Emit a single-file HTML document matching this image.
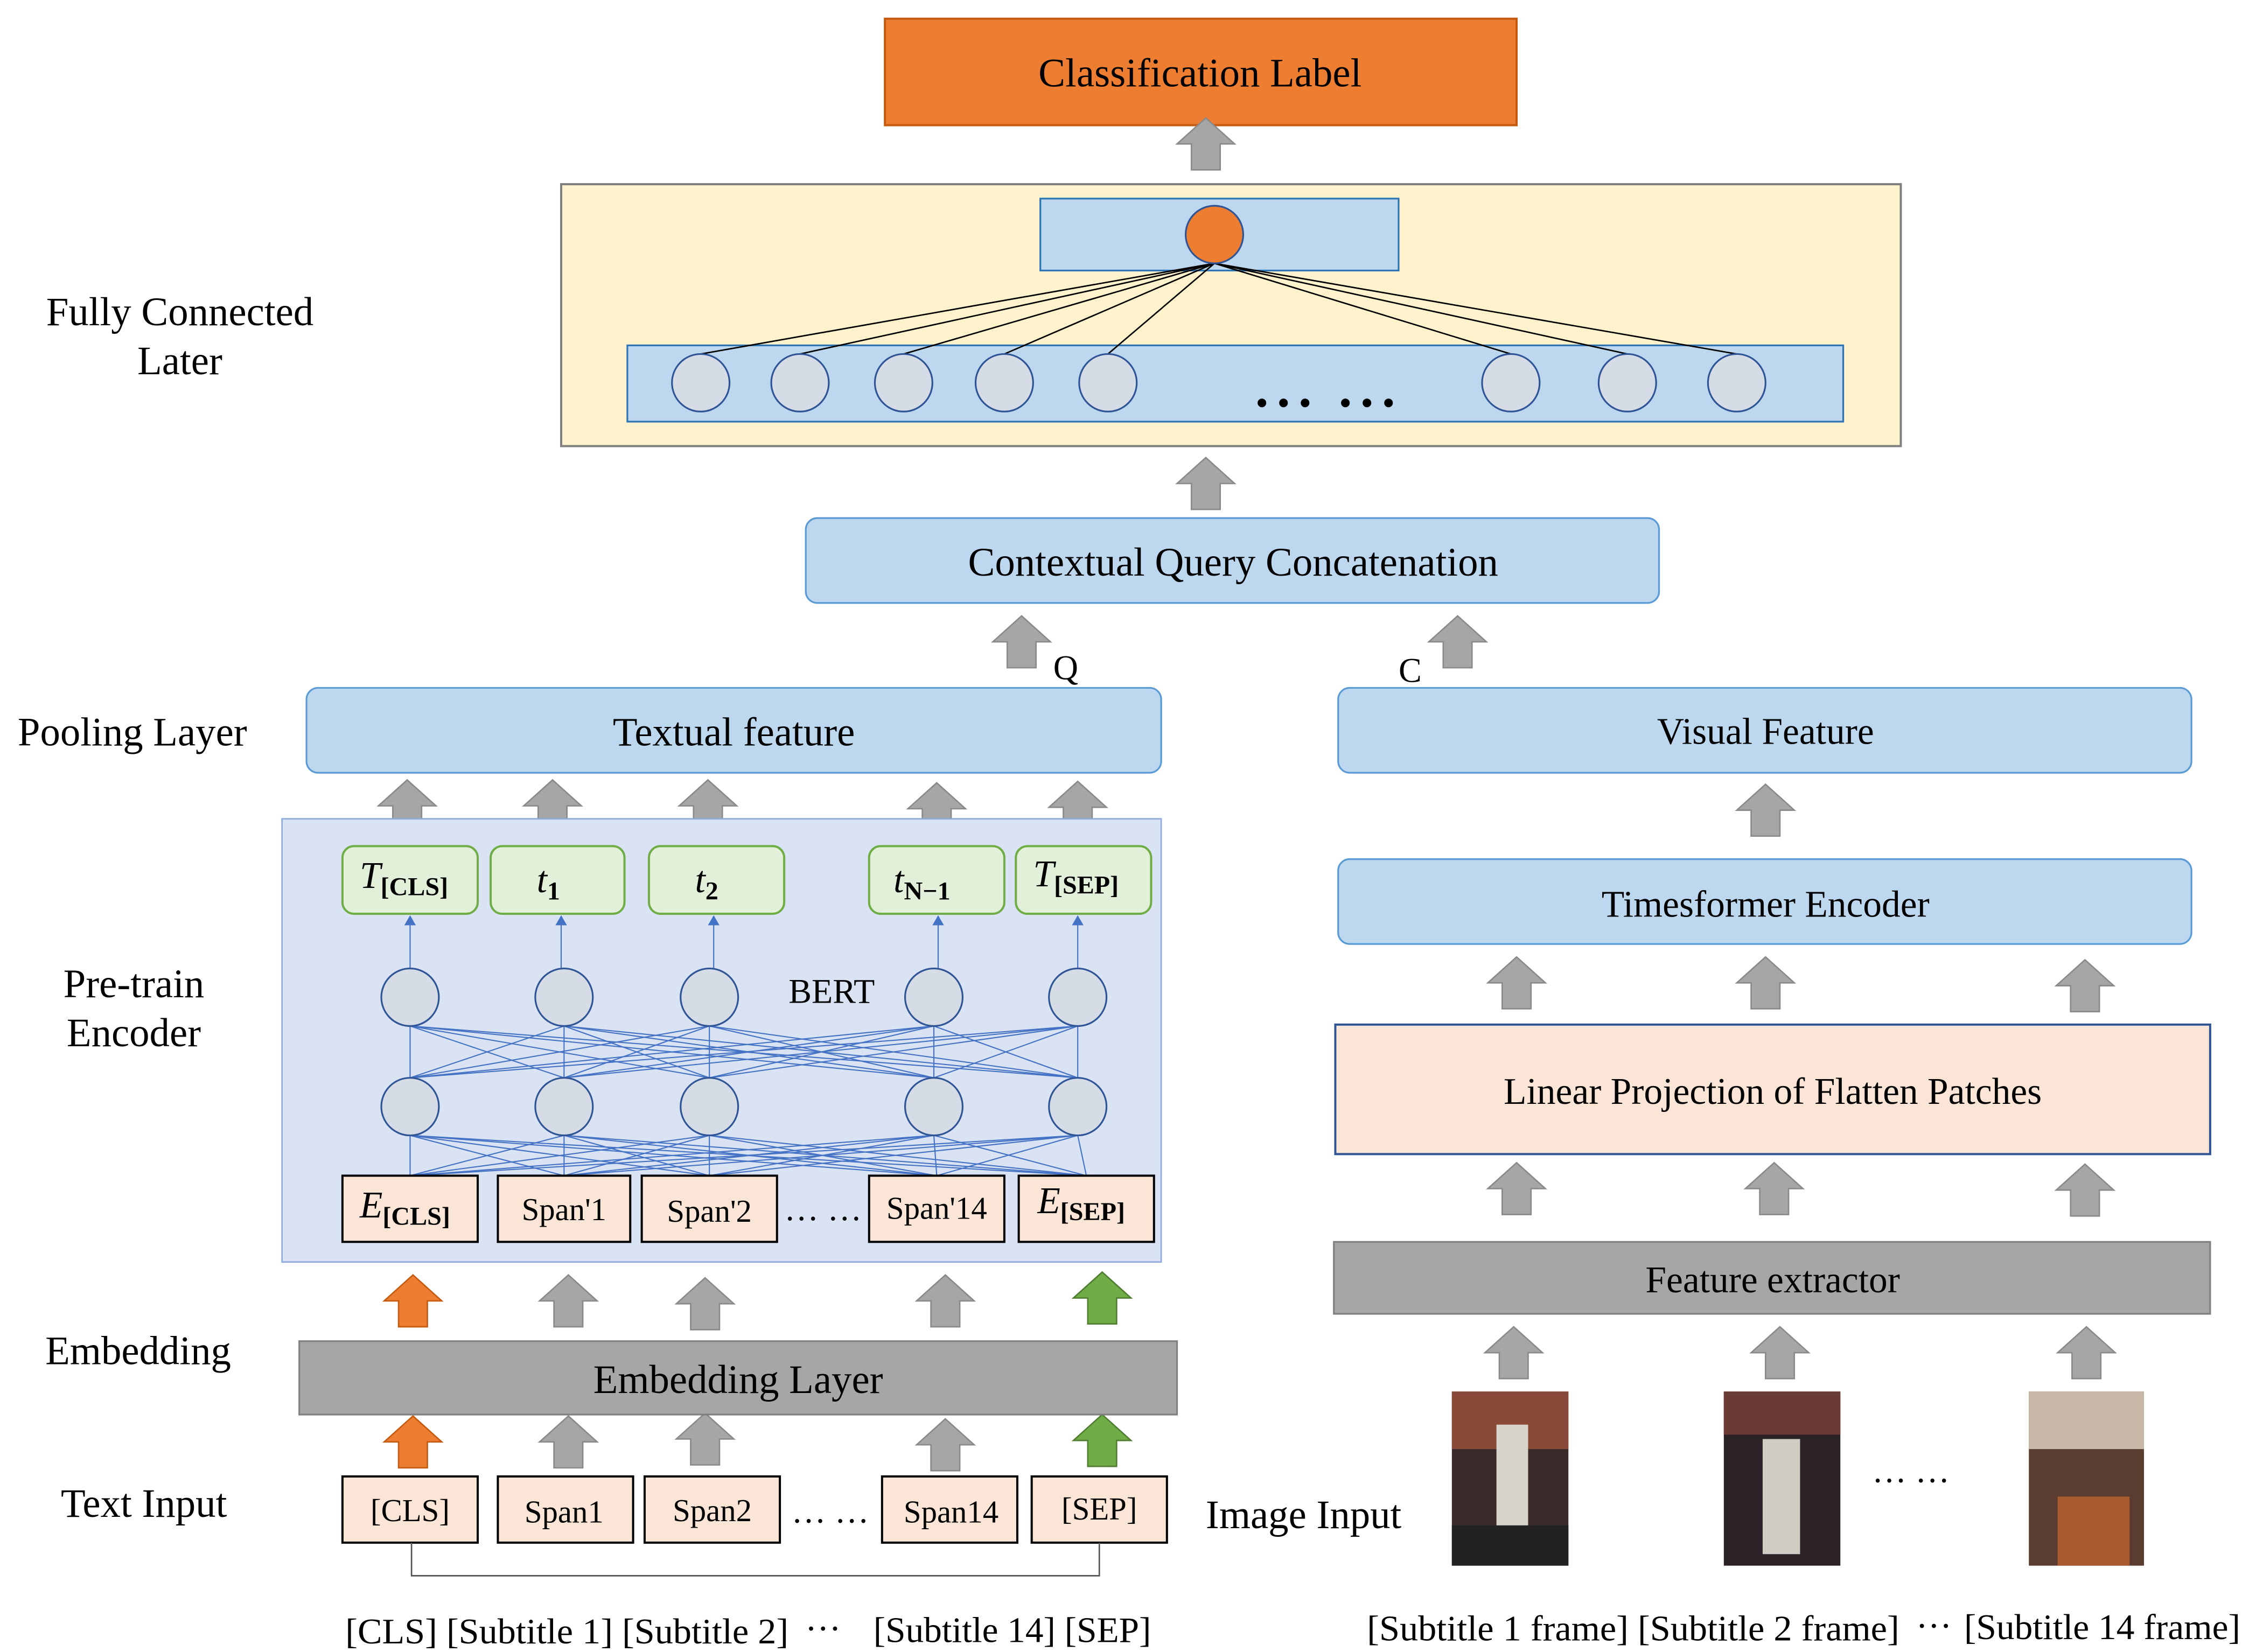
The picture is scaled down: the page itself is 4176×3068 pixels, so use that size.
<!DOCTYPE html>
<html><head><meta charset="utf-8"><style>
html,body{margin:0;padding:0;background:#fff;}
svg{display:block;}
text{font-family:"Liberation Serif",serif;fill:#000;}
</style></head><body>
<svg width="4176" height="3068" viewBox="0 0 1563 1148" preserveAspectRatio="none" xmlns="http://www.w3.org/2000/svg">
<defs>
<path id="ar" d="M-10,0 L-10,-18 L-20,-18 L0,-36 L20,-18 L10,-18 L10,0 Z"/>
</defs>
<g font-size="28">
<rect x="615" y="13" width="439" height="74" fill="#ED7D31" stroke="#C55A11" stroke-width="1.5"/>
<text x="834" y="60" text-anchor="middle">Classification Label</text>
<use href="#ar" x="838" y="118" fill="#A6A6A6" stroke="#8A8A8A"/>
<rect x="390" y="128" width="931" height="182" fill="#FFF2CC" stroke="#808080" stroke-width="1.5"/>
<rect x="723" y="138" width="249" height="50" fill="#BDD7EE" stroke="#2E75B6" stroke-width="1.2"/>
<rect x="436" y="240" width="845" height="53" fill="#BDD7EE" stroke="#2E75B6" stroke-width="1.2"/>
<g stroke="#000" stroke-width="1">
<line x1="844" y1="183" x2="487" y2="246"/><line x1="844" y1="183" x2="556" y2="246"/>
<line x1="844" y1="183" x2="628" y2="246"/><line x1="844" y1="183" x2="698" y2="246"/>
<line x1="844" y1="183" x2="770" y2="246"/><line x1="844" y1="183" x2="1050" y2="246"/>
<line x1="844" y1="183" x2="1131" y2="246"/><line x1="844" y1="183" x2="1207" y2="246"/>
</g>
<g fill="#D6DCE5" stroke="#2F5597" stroke-width="1.2">
<circle cx="487" cy="266" r="20"/><circle cx="556" cy="266" r="20"/><circle cx="628" cy="266" r="20"/>
<circle cx="698" cy="266" r="20"/><circle cx="770" cy="266" r="20"/><circle cx="1050" cy="266" r="20"/>
<circle cx="1131" cy="266" r="20"/><circle cx="1207" cy="266" r="20"/>
</g>
<circle cx="844" cy="163" r="20" fill="#ED7D31" stroke="#2F5597" stroke-width="1.2"/>
<g fill="#000"><circle cx="877" cy="280" r="3"/><circle cx="892" cy="280" r="3"/><circle cx="907" cy="280" r="3"/>
<circle cx="935" cy="280" r="3"/><circle cx="950" cy="280" r="3"/><circle cx="965" cy="280" r="3"/></g>
<text x="125" y="226" text-anchor="middle">Fully Connected</text>
<text x="125" y="260" text-anchor="middle">Later</text>
<use href="#ar" x="838" y="354" fill="#A6A6A6" stroke="#8A8A8A"/>
<rect x="560" y="360" width="593" height="59" rx="8" fill="#BDD7EE" stroke="#5B9BD5" stroke-width="1.2"/>
<text x="857" y="400" text-anchor="middle">Contextual Query Concatenation</text>
<use href="#ar" x="710" y="464" fill="#A6A6A6" stroke="#8A8A8A"/>
<use href="#ar" x="1013" y="464" fill="#A6A6A6" stroke="#8A8A8A"/>
<text x="732" y="472" font-size="24">Q</text>
<text x="972" y="474" font-size="24">C</text>
<text x="92" y="518" text-anchor="middle">Pooling Layer</text>
<rect x="213" y="478" width="594" height="59" rx="8" fill="#BDD7EE" stroke="#5B9BD5" stroke-width="1.2"/>
<text x="510" y="518" text-anchor="middle">Textual feature</text>
<rect x="930" y="478" width="593" height="59" rx="8" fill="#BDD7EE" stroke="#5B9BD5" stroke-width="1.2"/>
<text x="1227" y="517" text-anchor="middle" font-size="26">Visual Feature</text>
<g fill="#A6A6A6" stroke="#8A8A8A">
<use href="#ar" x="283" y="578"/><use href="#ar" x="384" y="578"/><use href="#ar" x="492" y="578"/>
<use href="#ar" x="651" y="580"/><use href="#ar" x="749" y="579"/>
<use href="#ar" x="1227" y="581"/>
<use href="#ar" x="1054" y="701"/><use href="#ar" x="1227" y="701"/><use href="#ar" x="1449" y="703"/>
<use href="#ar" x="1054" y="844"/><use href="#ar" x="1233" y="844"/><use href="#ar" x="1449" y="845"/>
<use href="#ar" x="1052" y="958"/><use href="#ar" x="1237" y="958"/><use href="#ar" x="1450" y="958"/>
<use href="#ar" x="395" y="922"/><use href="#ar" x="490" y="924"/><use href="#ar" x="657" y="922"/>
<use href="#ar" x="395" y="1020"/><use href="#ar" x="490" y="1018"/><use href="#ar" x="657" y="1022"/>
</g>
<use href="#ar" x="287" y="922" fill="#ED7D31" stroke="#C55A11"/>
<use href="#ar" x="766" y="920" fill="#70AD47" stroke="#507E32"/>
<use href="#ar" x="287" y="1020" fill="#ED7D31" stroke="#C55A11"/>
<use href="#ar" x="766" y="1019" fill="#70AD47" stroke="#507E32"/>
<rect x="196" y="569" width="611" height="308" fill="#DAE3F3" stroke="#8FAADC" stroke-width="1"/>
<g stroke="#4472C4" stroke-width="0.8">
<line x1="285" y1="749" x2="285" y2="713"/><line x1="285" y1="749" x2="392" y2="713"/><line x1="285" y1="749" x2="493" y2="713"/><line x1="285" y1="749" x2="649" y2="713"/><line x1="285" y1="749" x2="749" y2="713"/>
<line x1="392" y1="749" x2="285" y2="713"/><line x1="392" y1="749" x2="392" y2="713"/><line x1="392" y1="749" x2="493" y2="713"/><line x1="392" y1="749" x2="649" y2="713"/><line x1="392" y1="749" x2="749" y2="713"/>
<line x1="493" y1="749" x2="285" y2="713"/><line x1="493" y1="749" x2="392" y2="713"/><line x1="493" y1="749" x2="493" y2="713"/><line x1="493" y1="749" x2="649" y2="713"/><line x1="493" y1="749" x2="749" y2="713"/>
<line x1="649" y1="749" x2="285" y2="713"/><line x1="649" y1="749" x2="392" y2="713"/><line x1="649" y1="749" x2="493" y2="713"/><line x1="649" y1="749" x2="649" y2="713"/><line x1="649" y1="749" x2="749" y2="713"/>
<line x1="749" y1="749" x2="285" y2="713"/><line x1="749" y1="749" x2="392" y2="713"/><line x1="749" y1="749" x2="493" y2="713"/><line x1="749" y1="749" x2="649" y2="713"/><line x1="749" y1="749" x2="749" y2="713"/>
<line x1="285" y1="817" x2="285" y2="789"/><line x1="285" y1="817" x2="392" y2="789"/><line x1="285" y1="817" x2="493" y2="789"/><line x1="285" y1="817" x2="649" y2="789"/><line x1="285" y1="817" x2="749" y2="789"/>
<line x1="392" y1="817" x2="285" y2="789"/><line x1="392" y1="817" x2="392" y2="789"/><line x1="392" y1="817" x2="493" y2="789"/><line x1="392" y1="817" x2="649" y2="789"/><line x1="392" y1="817" x2="749" y2="789"/>
<line x1="493" y1="817" x2="285" y2="789"/><line x1="493" y1="817" x2="392" y2="789"/><line x1="493" y1="817" x2="493" y2="789"/><line x1="493" y1="817" x2="649" y2="789"/><line x1="493" y1="817" x2="749" y2="789"/>
<line x1="651" y1="817" x2="285" y2="789"/><line x1="651" y1="817" x2="392" y2="789"/><line x1="651" y1="817" x2="493" y2="789"/><line x1="651" y1="817" x2="649" y2="789"/><line x1="651" y1="817" x2="749" y2="789"/>
<line x1="755" y1="817" x2="285" y2="789"/><line x1="755" y1="817" x2="392" y2="789"/><line x1="755" y1="817" x2="493" y2="789"/><line x1="755" y1="817" x2="649" y2="789"/><line x1="755" y1="817" x2="749" y2="789"/>
<line x1="285" y1="673" x2="285" y2="640"/><line x1="390" y1="673" x2="390" y2="640"/><line x1="496" y1="673" x2="496" y2="640"/><line x1="652" y1="673" x2="652" y2="640"/><line x1="749" y1="673" x2="749" y2="640"/>
</g>
<g fill="#4472C4">
<path d="M281,643 L285,636 L289,643Z"/><path d="M386,643 L390,636 L394,643Z"/><path d="M492,643 L496,636 L500,643Z"/><path d="M648,643 L652,636 L656,643Z"/><path d="M745,643 L749,636 L753,643Z"/>
</g>
<g fill="#D6DCE5" stroke="#2F5597" stroke-width="1.2">
<circle cx="285" cy="693" r="20"/><circle cx="392" cy="693" r="20"/><circle cx="493" cy="693" r="20"/><circle cx="649" cy="693" r="20"/><circle cx="749" cy="693" r="20"/>
<circle cx="285" cy="769" r="20"/><circle cx="392" cy="769" r="20"/><circle cx="493" cy="769" r="20"/><circle cx="649" cy="769" r="20"/><circle cx="749" cy="769" r="20"/>
</g>
<text x="578" y="697" text-anchor="middle" font-size="24">BERT</text>
<g fill="#E2F0D9" stroke="#70AD47" stroke-width="1.5">
<rect x="238" y="588" width="94" height="47" rx="8"/><rect x="341" y="588" width="93" height="47" rx="8"/>
<rect x="451" y="588" width="94" height="47" rx="8"/><rect x="604" y="588" width="94" height="47" rx="8"/>
<rect x="706" y="588" width="94" height="47" rx="8"/>
</g>
<g font-style="italic" font-size="26">
<text x="250" y="617">T<tspan font-style="normal" font-weight="bold" font-size="18" dy="5">[CLS]</tspan></text>
<text x="373" y="620">t<tspan font-style="normal" font-weight="bold" font-size="18" dy="5">1</tspan></text>
<text x="483" y="620">t<tspan font-style="normal" font-weight="bold" font-size="18" dy="5">2</tspan></text>
<text x="621" y="620">t<tspan font-style="normal" font-weight="bold" font-size="18" dy="5">N−1</tspan></text>
<text x="718" y="616">T<tspan font-style="normal" font-weight="bold" font-size="18" dy="5">[SEP]</tspan></text>
</g>
<g fill="#FBE5D6" stroke="#000" stroke-width="1.5">
<rect x="238" y="817" width="94" height="46"/><rect x="346" y="817" width="92" height="46"/>
<rect x="446" y="817" width="94" height="46"/><rect x="604" y="817" width="94" height="46"/>
<rect x="708" y="817" width="94" height="46"/>
</g>
<text x="250" y="846" font-style="italic" font-size="26">E<tspan font-style="normal" font-weight="bold" font-size="18" dy="5">[CLS]</tspan></text>
<text x="392" y="848" text-anchor="middle" font-size="22">Span'1</text>
<text x="493" y="849" text-anchor="middle" font-size="22">Span'2</text>
<text x="651" y="847" text-anchor="middle" font-size="22">Span'14</text>
<text x="721" y="843" font-style="italic" font-size="26">E<tspan font-style="normal" font-weight="bold" font-size="18" dy="5">[SEP]</tspan></text>
<text x="572" y="848" text-anchor="middle" font-size="24">… …</text>
<text x="93" y="693" text-anchor="middle">Pre-train</text>
<text x="93" y="727" text-anchor="middle">Encoder</text>
<text x="96" y="948" text-anchor="middle">Embedding</text>
<rect x="208" y="932" width="610" height="51" fill="#A6A6A6" stroke="#808080" stroke-width="1.2"/>
<text x="513" y="968" text-anchor="middle">Embedding Layer</text>
<text x="100" y="1054" text-anchor="middle">Text Input</text>
<g fill="#FBE5D6" stroke="#000" stroke-width="1.5">
<rect x="238" y="1026" width="94" height="46"/><rect x="346" y="1026" width="94" height="46"/>
<rect x="448" y="1026" width="94" height="46"/><rect x="613" y="1026" width="94" height="46"/>
<rect x="717" y="1026" width="94" height="46"/>
</g>
<g font-size="22" text-anchor="middle">
<text x="285" y="1057">[CLS]</text><text x="392" y="1058">Span1</text><text x="495" y="1057">Span2</text>
<text x="661" y="1058">Span14</text><text x="764" y="1056">[SEP]</text>
</g>
<text x="577" y="1058" text-anchor="middle" font-size="24">… …</text>
<polyline points="286,1072 286,1095 764,1095 764,1072" fill="none" stroke="#555" stroke-width="1"/>
<text x="240" y="1142" font-size="25" textLength="308" lengthAdjust="spacingAndGlyphs">[CLS] [Subtitle 1] [Subtitle 2]</text>
<text x="572" y="1140" font-size="25" text-anchor="middle">···</text>
<text x="607" y="1141" font-size="25" textLength="193" lengthAdjust="spacingAndGlyphs">[Subtitle 14] [SEP]</text>
<rect x="930" y="597" width="593" height="59" rx="8" fill="#BDD7EE" stroke="#5B9BD5" stroke-width="1.2"/>
<text x="1227" y="637" text-anchor="middle" font-size="26">Timesformer Encoder</text>
<rect x="928" y="712" width="608" height="90" fill="#FBE5D6" stroke="#2F5597" stroke-width="1.5"/>
<text x="1232" y="767" text-anchor="middle" font-size="26">Linear Projection of Flatten Patches</text>
<rect x="927" y="863" width="609" height="50" fill="#A6A6A6" stroke="#808080" stroke-width="1.2"/>
<text x="1232" y="898" text-anchor="middle" font-size="26">Feature extractor</text>
<text x="906" y="1062" text-anchor="middle">Image Input</text>
<g>
<rect x="1009" y="967" width="81" height="121" fill="#3a2a2a"/>
<rect x="1009" y="967" width="81" height="40" fill="#8a4a3a"/>
<rect x="1040" y="990" width="22" height="80" fill="#d8d4cc"/>
<rect x="1009" y="1060" width="81" height="28" fill="#222"/>
<rect x="1198" y="967" width="81" height="121" fill="#2a2226"/>
<rect x="1198" y="967" width="81" height="30" fill="#6a3a34"/>
<rect x="1225" y="1000" width="26" height="80" fill="#d0ccc4"/>
<rect x="1410" y="967" width="80" height="121" fill="#5a3c30"/>
<rect x="1410" y="967" width="80" height="40" fill="#c9b9a8"/>
<rect x="1430" y="1040" width="50" height="48" fill="#a85a30"/>
</g>
<text x="1328" y="1030" text-anchor="middle" font-size="24">… …</text>
<text x="950" y="1140" font-size="25" textLength="370" lengthAdjust="spacingAndGlyphs">[Subtitle 1 frame] [Subtitle 2 frame]</text>
<text x="1344" y="1138" font-size="25" text-anchor="middle">···</text>
<text x="1365" y="1139" font-size="25" textLength="192" lengthAdjust="spacingAndGlyphs">[Subtitle 14 frame]</text>
</g>
</svg>
</body></html>
